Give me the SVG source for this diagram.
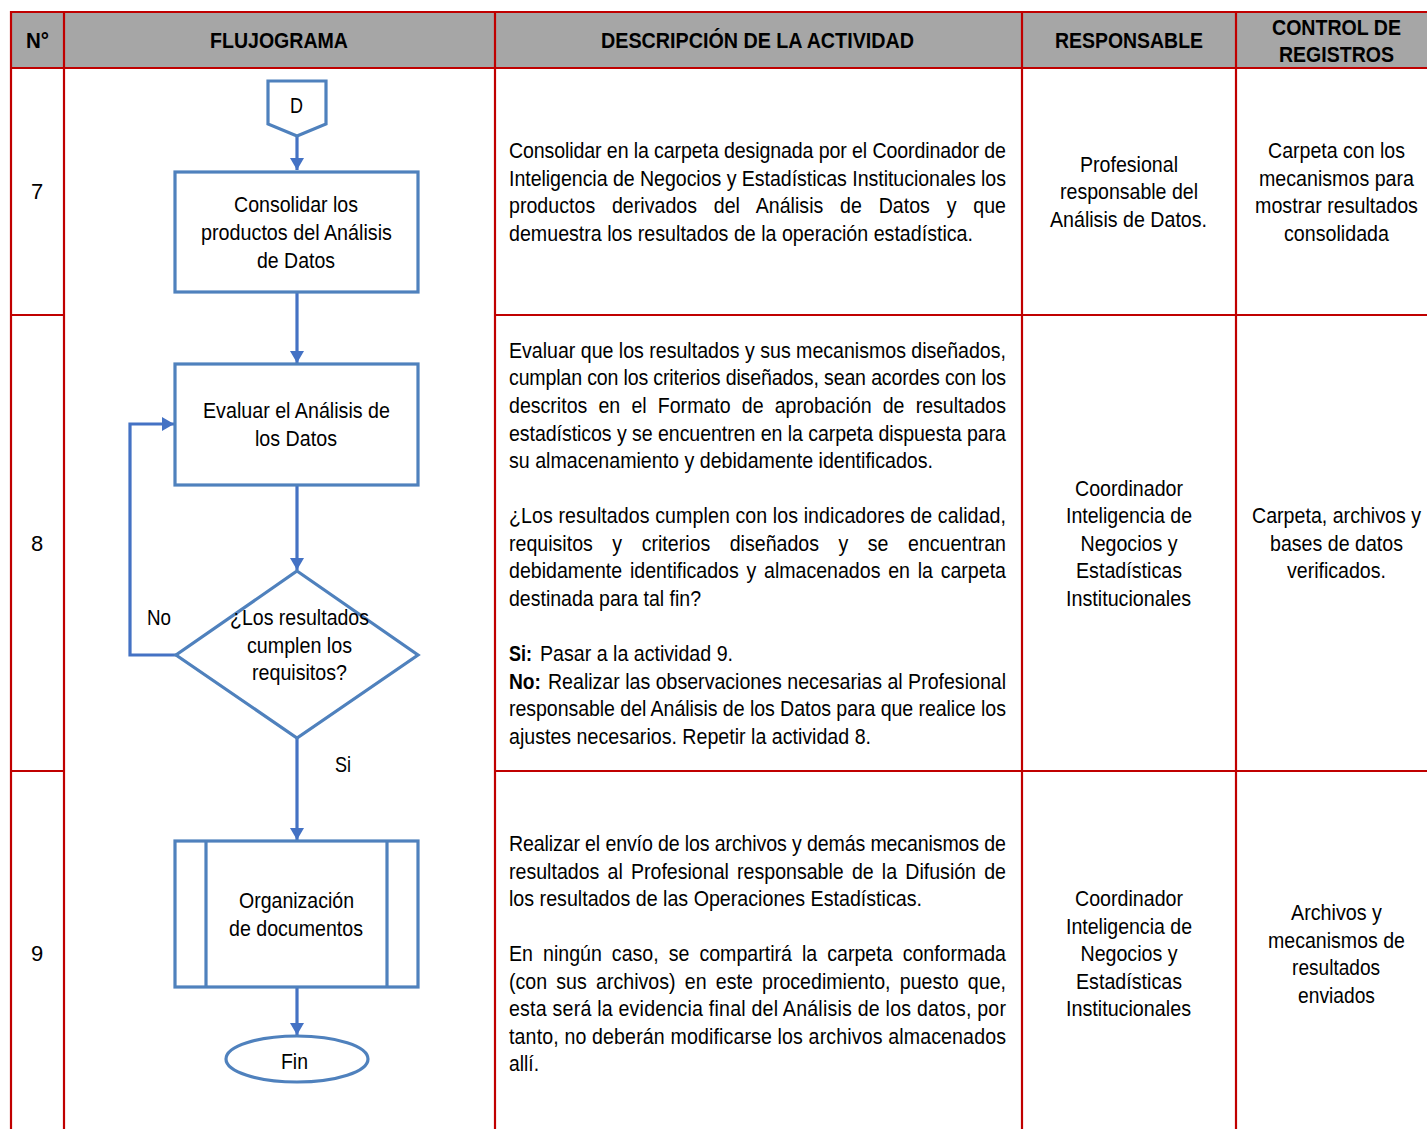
<svg xmlns="http://www.w3.org/2000/svg" width="1427" height="1129" viewBox="0 0 1427 1129">
<defs>
<marker id="ah" viewBox="0 0 12 14" refX="12" refY="7" markerWidth="12" markerHeight="14" markerUnits="userSpaceOnUse" orient="auto">
<path d="M0,0 L12,7 L0,14 Z" fill="#4472c4"/>
</marker>
<style>
.grid{stroke:#c00000;stroke-width:2.2;fill:none}
.hdr{fill:#a6a6a6}
.th{font-family:"Liberation Sans Narrow","Arial Narrow","Liberation Sans",sans-serif;font-size:22px;font-weight:bold;fill:#000;text-anchor:middle}
.t{font-family:"Liberation Sans Narrow","Arial Narrow","Liberation Sans",sans-serif;font-size:22px;fill:#000}
.b{font-weight:bold}
.c{text-anchor:middle}
.shape{fill:#fff;stroke:#4f81bd;stroke-width:3.2}
.conn{fill:none;stroke:#4472c4;stroke-width:3.2}
</style>
</defs>
<rect x="0" y="0" width="1427" height="1129" fill="#fff"/>
<g id="table">
<rect class="hdr" x="11" y="12" width="1416" height="56"/>
<line class="grid" x1="11" y1="12" x2="1427" y2="12"/>
<line class="grid" x1="11" y1="68" x2="1427" y2="68"/>
<line class="grid" x1="11" y1="315" x2="64" y2="315"/>
<line class="grid" x1="495" y1="315" x2="1427" y2="315"/>
<line class="grid" x1="11" y1="771" x2="64" y2="771"/>
<line class="grid" x1="495" y1="771" x2="1427" y2="771"/>
<line class="grid" x1="11" y1="11" x2="11" y2="1129"/>
<line class="grid" x1="64" y1="11" x2="64" y2="1129"/>
<line class="grid" x1="495" y1="11" x2="495" y2="1129"/>
<line class="grid" x1="1022" y1="11" x2="1022" y2="1129"/>
<line class="grid" x1="1236" y1="11" x2="1236" y2="1129"/>
<text class="th" x="37.5" y="48" textLength="23" lengthAdjust="spacingAndGlyphs">N°</text>
<text class="th" x="279" y="48" textLength="138" lengthAdjust="spacingAndGlyphs">FLUJOGRAMA</text>
<text class="th" x="757.5" y="48" textLength="313" lengthAdjust="spacingAndGlyphs">DESCRIPCIÓN DE LA ACTIVIDAD</text>
<text class="th" x="1129" y="48" textLength="148" lengthAdjust="spacingAndGlyphs">RESPONSABLE</text>
<text class="th" x="1336.5" y="35" textLength="129" lengthAdjust="spacingAndGlyphs">CONTROL DE</text>
<text class="th" x="1336.5" y="62" textLength="115" lengthAdjust="spacingAndGlyphs">REGISTROS</text>
<text class="t c" x="37" y="199">7</text>
<text class="t c" x="37" y="551">8</text>
<text class="t c" x="37" y="961">9</text>
</g>
<g id="desc7">
<g transform="matrix(0.89 0 0 1 56 0)">
<text class="t" x="509" y="158" textLength="558.4" lengthAdjust="spacing">Consolidar en la carpeta designada por el Coordinador de</text>
<text class="t" x="509" y="186" textLength="558.4" lengthAdjust="spacing">Inteligencia de Negocios y Estadísticas Institucionales los</text>
<text class="t" x="509" y="213" textLength="558.4" lengthAdjust="spacing" word-spacing="12.7">productos derivados del Análisis de Datos y que</text>
</g>
<text class="t" x="509" y="241" textLength="464" lengthAdjust="spacingAndGlyphs">demuestra los resultados de la operación estadística.</text>
</g>
<g id="desc8">
<g transform="matrix(0.89 0 0 1 56 0)">
<text class="t" x="509" y="358" textLength="558.4" lengthAdjust="spacing">Evaluar que los resultados y sus mecanismos diseñados,</text>
<text class="t" x="509" y="385" textLength="558.4" lengthAdjust="spacing">cumplan con los criterios diseñados, sean acordes con los</text>
<text class="t" x="509" y="413" textLength="558.4" lengthAdjust="spacing" word-spacing="6.4">descritos en el Formato de aprobación de resultados</text>
<text class="t" x="509" y="441" textLength="558.4" lengthAdjust="spacing">estadísticos y se encuentren en la carpeta dispuesta para</text>
<text class="t" x="509" y="523" textLength="558.4" lengthAdjust="spacing">¿Los resultados cumplen con los indicadores de calidad,</text>
<text class="t" x="509" y="551" textLength="558.4" lengthAdjust="spacing" word-spacing="15.8">requisitos y criterios diseñados y se encuentran</text>
<text class="t" x="509" y="578" textLength="558.4" lengthAdjust="spacing" word-spacing="2.6">debidamente identificados y almacenados en la carpeta</text>
<text class="t" x="509" y="716" textLength="558.4" lengthAdjust="spacing">responsable del Análisis de los Datos para que realice los</text>
</g>
<g transform="matrix(0.89 0 0 1 60.28 0)">
<text class="t" x="548" y="689" textLength="514.6" lengthAdjust="spacing">Realizar las observaciones necesarias al Profesional</text>
</g>
<text class="t b" x="509" y="689" textLength="32" lengthAdjust="spacingAndGlyphs">No:</text>
<text class="t" x="509" y="468" textLength="424" lengthAdjust="spacingAndGlyphs">su almacenamiento y debidamente identificados.</text>
<text class="t" x="509" y="606" textLength="192" lengthAdjust="spacingAndGlyphs">destinada para tal fin?</text>
<text class="t b" x="509" y="661" textLength="23" lengthAdjust="spacingAndGlyphs">Si:</text>
<text class="t" x="540" y="661" textLength="193" lengthAdjust="spacingAndGlyphs">Pasar a la actividad 9.</text>
<text class="t" x="509" y="744" textLength="362" lengthAdjust="spacingAndGlyphs">ajustes necesarios. Repetir la actividad 8.</text>
</g>
<g id="desc9">
<g transform="matrix(0.89 0 0 1 56 0)">
<text class="t" x="509" y="851" textLength="558.4" lengthAdjust="spacing">Realizar el envío de los archivos y demás mecanismos de</text>
<text class="t" x="509" y="879" textLength="558.4" lengthAdjust="spacing" word-spacing="3.1">resultados al Profesional responsable de la Difusión de</text>
<text class="t" x="509" y="961" textLength="558.4" lengthAdjust="spacing" word-spacing="5.2">En ningún caso, se compartirá la carpeta conformada</text>
<text class="t" x="509" y="989" textLength="558.4" lengthAdjust="spacing" word-spacing="4.2">(con sus archivos) en este procedimiento, puesto que,</text>
<text class="t" x="509" y="1016" textLength="558.4" lengthAdjust="spacing">esta será la evidencia final del Análisis de los datos, por</text>
<text class="t" x="509" y="1044" textLength="558.4" lengthAdjust="spacing">tanto, no deberán modificarse los archivos almacenados</text>
</g>
<text class="t" x="509" y="906" textLength="413" lengthAdjust="spacingAndGlyphs">los resultados de las Operaciones Estadísticas.</text>
<text class="t" x="509" y="1071" textLength="30" lengthAdjust="spacingAndGlyphs">allí.</text>
</g>
<g id="resp">
<text class="t c" x="1129" y="172" textLength="98" lengthAdjust="spacingAndGlyphs">Profesional</text>
<text class="t c" x="1129" y="199" textLength="138" lengthAdjust="spacingAndGlyphs">responsable del</text>
<text class="t c" x="1128.5" y="227" textLength="157" lengthAdjust="spacingAndGlyphs">Análisis de Datos.</text>
<text class="t c" x="1129" y="496" textLength="108" lengthAdjust="spacingAndGlyphs">Coordinador</text>
<text class="t c" x="1129" y="523" textLength="126" lengthAdjust="spacingAndGlyphs">Inteligencia de</text>
<text class="t c" x="1129" y="551" textLength="97" lengthAdjust="spacingAndGlyphs">Negocios y</text>
<text class="t c" x="1129" y="578" textLength="106" lengthAdjust="spacingAndGlyphs">Estadísticas</text>
<text class="t c" x="1128.5" y="606" textLength="125" lengthAdjust="spacingAndGlyphs">Institucionales</text>
<text class="t c" x="1129" y="906" textLength="108" lengthAdjust="spacingAndGlyphs">Coordinador</text>
<text class="t c" x="1129" y="934" textLength="126" lengthAdjust="spacingAndGlyphs">Inteligencia de</text>
<text class="t c" x="1129" y="961" textLength="97" lengthAdjust="spacingAndGlyphs">Negocios y</text>
<text class="t c" x="1129" y="989" textLength="106" lengthAdjust="spacingAndGlyphs">Estadísticas</text>
<text class="t c" x="1128.5" y="1016" textLength="125" lengthAdjust="spacingAndGlyphs">Institucionales</text>
</g>
<g id="control" transform="matrix(0.89 0 0 1 147.015 0)">
<text class="t c" x="1336.5" y="158" textLength="153.9" lengthAdjust="spacingAndGlyphs">Carpeta con los</text>
<text class="t c" x="1336.5" y="186" textLength="174.2" lengthAdjust="spacingAndGlyphs">mecanismos para</text>
<text class="t c" x="1336.5" y="213" textLength="183.1" lengthAdjust="spacingAndGlyphs">mostrar resultados</text>
<text class="t c" x="1336.5" y="241" textLength="118" lengthAdjust="spacingAndGlyphs">consolidada</text>
<text class="t c" x="1336.5" y="523" textLength="189.9" lengthAdjust="spacingAndGlyphs">Carpeta, archivos y</text>
<text class="t c" x="1336.5" y="551" textLength="149.4" lengthAdjust="spacingAndGlyphs">bases de datos</text>
<text class="t c" x="1336.5" y="578" textLength="111.2" lengthAdjust="spacingAndGlyphs">verificados.</text>
<text class="t c" x="1336.5" y="920" textLength="102.2" lengthAdjust="spacingAndGlyphs">Archivos y</text>
<text class="t c" x="1336.5" y="948" textLength="153.9" lengthAdjust="spacingAndGlyphs">mecanismos de</text>
<text class="t c" x="1336" y="975" textLength="98.9" lengthAdjust="spacingAndGlyphs">resultados</text>
<text class="t c" x="1336.5" y="1003" textLength="86.5" lengthAdjust="spacingAndGlyphs">enviados</text>
</g>
<g id="connectors">
<line class="conn" x1="297" y1="136" x2="297" y2="170" marker-end="url(#ah)"/>
<line class="conn" x1="297" y1="292" x2="297" y2="363" marker-end="url(#ah)"/>
<line class="conn" x1="297" y1="485" x2="297" y2="570" marker-end="url(#ah)"/>
<polyline class="conn" points="176,655 130,655 130,424 174,424" marker-end="url(#ah)"/>
<line class="conn" x1="297" y1="738" x2="297" y2="840" marker-end="url(#ah)"/>
<line class="conn" x1="297" y1="988" x2="297" y2="1035" marker-end="url(#ah)"/>
<text class="t c" x="159" y="625" textLength="24" lengthAdjust="spacingAndGlyphs">No</text>
<text class="t c" x="343" y="772" textLength="16" lengthAdjust="spacingAndGlyphs">Si</text>
</g>
<g id="node-d">
<path class="shape" d="M268,81 L326,81 L326,124 L297,136 L268,124 Z"/>
<text class="t c" x="296.5" y="113" textLength="13" lengthAdjust="spacingAndGlyphs">D</text>
</g>
<g id="node-consolidar">
<rect class="shape" x="175" y="172" width="243" height="120"/>
<text class="t c" x="296" y="212" textLength="124" lengthAdjust="spacingAndGlyphs">Consolidar los</text>
<text class="t c" x="296.5" y="240" textLength="191" lengthAdjust="spacingAndGlyphs">productos del Análisis</text>
<text class="t c" x="296" y="268" textLength="78" lengthAdjust="spacingAndGlyphs">de Datos</text>
</g>
<g id="node-evaluar">
<rect class="shape" x="175" y="364" width="243" height="121"/>
<text class="t c" x="296.5" y="418" textLength="187" lengthAdjust="spacingAndGlyphs">Evaluar el Análisis de</text>
<text class="t c" x="296" y="446" textLength="82" lengthAdjust="spacingAndGlyphs">los Datos</text>
</g>
<g id="node-decision">
<path class="shape" d="M297,571 L418,655 L297,738 L176,655 Z"/>
<text class="t c" x="299.5" y="625" textLength="139" lengthAdjust="spacingAndGlyphs">¿Los resultados</text>
<text class="t c" x="299.5" y="653" textLength="105" lengthAdjust="spacingAndGlyphs">cumplen los</text>
<text class="t c" x="299.5" y="680" textLength="95" lengthAdjust="spacingAndGlyphs">requisitos?</text>
</g>
<g id="node-organizacion">
<rect class="shape" x="175" y="841" width="243" height="146"/>
<line class="shape" x1="206" y1="841" x2="206" y2="987"/>
<line class="shape" x1="387" y1="841" x2="387" y2="987"/>
<text class="t c" x="296.5" y="908" textLength="115" lengthAdjust="spacingAndGlyphs">Organización</text>
<text class="t c" x="296" y="936" textLength="134" lengthAdjust="spacingAndGlyphs">de documentos</text>
</g>
<g id="node-fin">
<ellipse class="shape" cx="297" cy="1059" rx="71" ry="23"/>
<text class="t c" x="294.5" y="1069" textLength="27" lengthAdjust="spacingAndGlyphs">Fin</text>
</g>
</svg>
